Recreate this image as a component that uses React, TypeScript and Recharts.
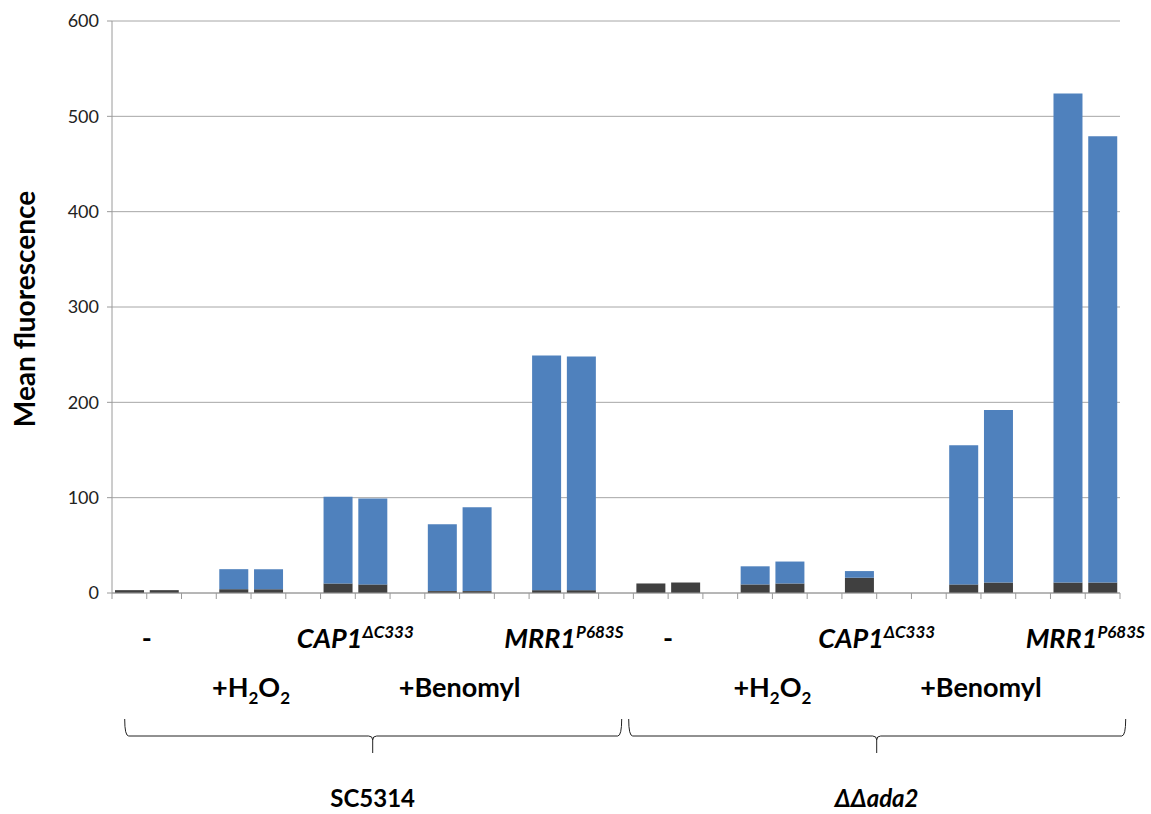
import { Bar, BarChart, CartesianGrid, XAxis, YAxis } from "recharts"

// one slot per bar position, empty slots are the gaps between pairs
const slotNames = [
  "SC5314 - a", "SC5314 - b", "SC5314 gap 1",
  "SC5314 H2O2 a", "SC5314 H2O2 b", "SC5314 gap 2",
  "SC5314 CAP1 a", "SC5314 CAP1 b", "SC5314 gap 3",
  "SC5314 Benomyl a", "SC5314 Benomyl b", "SC5314 gap 4",
  "SC5314 MRR1 a", "SC5314 MRR1 b", "SC5314 gap 5",
  "ada2 - a", "ada2 - b", "ada2 gap 1",
  "ada2 H2O2 a", "ada2 H2O2 b", "ada2 gap 2",
  "ada2 CAP1 a", "ada2 CAP1 b", "ada2 gap 3",
  "ada2 Benomyl a", "ada2 Benomyl b", "ada2 gap 4",
  "ada2 MRR1 a", "ada2 MRR1 b",
]

// dark part of each bar (background)
const background = [
  3, 3, null, 4, 4, null, 10, 9, null, 2, 2, null, 3, 3, null,
  10, 11, null, 9, 10, null, 16, null, null, 9, 11, null, 11, 11,
]

// blue part stacked on top
const signal = [
  0, 0, null, 21, 21, null, 91, 90, null, 70, 88, null, 246, 245, null,
  0, 0, null, 19, 23, null, 7, null, null, 146, 181, null, 513, 468,
]

const yTicks = [0, 100, 200, 300, 400, 500, 600]

// treatment labels: first slot of the pair they sit under, and row
const labelSlots = [0, 3, 6, 9, 12, 15, 18, 21, 24, 27]
const labelNames = ["-", "+H2O2", "CAP1", "+Benomyl", "MRR1", "-", "+H2O2", "CAP1", "+Benomyl", "MRR1"]
const labelRows = [0, 1, 0, 1, 0, 0, 1, 0, 1, 0]

const groupNames = ["SC5314", "ΔΔada2"]
const groupFirst = [0, 15]
const groupSpan = [15, 14]

const data = slotNames.map((name, i) => ({ name, background: background[i], signal: signal[i] }))

const W = 1151
const H = 814
const LEFT = 112
const RIGHT = 31
const BAND = (W - LEFT - RIGHT) / slotNames.length
const AXIS = "#9a9a9a"
const FONT = "Lato, 'Open Sans', sans-serif"

function labelText(name: string) {
  if (name === "+H2O2") {
    return (
      <>
        <tspan>+H</tspan>
        <tspan fontSize={17} dy={7}>2</tspan>
        <tspan dy={-7}>O</tspan>
        <tspan fontSize={17} dy={7}>2</tspan>
      </>
    )
  }
  if (name === "CAP1") {
    return (
      <>
        <tspan fontStyle="italic">CAP1</tspan>
        <tspan fontStyle="italic" fontSize={17} dy={-10}>ΔC333</tspan>
      </>
    )
  }
  if (name === "MRR1") {
    return (
      <>
        <tspan fontStyle="italic">MRR1</tspan>
        <tspan fontStyle="italic" fontSize={17} dy={-10}>P683S</tspan>
      </>
    )
  }
  return <tspan>{name}</tspan>
}

function SlotTick(props: any) {
  const { x, y, index } = props
  const left = x - BAND / 2
  const li = labelSlots.indexOf(index)
  const gi = groupFirst.indexOf(index)
  let group = null
  if (gi >= 0) {
    const c = left + (groupSpan[gi] * BAND) / 2
    const l = c - 248
    const r = c + 249
    const top = y + 126
    const mid = y + 143
    const d = `M${l},${top} Q${l},${mid} ${l + 4},${mid} H${c - 4} Q${c},${mid} ${c},${mid + 4} V${y + 160} M${c},${mid + 4} Q${c},${mid} ${c + 4},${mid} H${r - 4} Q${r},${mid} ${r},${top}`
    group = (
      <g>
        <path d={d} fill="none" stroke="#222" strokeWidth={1} />
        <text
          x={c}
          y={y + 214}
          textAnchor="middle"
          fontFamily={FONT}
          fontWeight="bold"
          fontStyle={gi === 1 ? "italic" : "normal"}
          fontSize={24}
          fill="#000"
        >
          {groupNames[gi]}
        </text>
      </g>
    )
  }
  return (
    <g>
      <line x1={left} x2={left} y1={y} y2={y + 6} stroke={AXIS} />
      {index === slotNames.length - 1 && (
        <line x1={left + BAND} x2={left + BAND} y1={y} y2={y + 6} stroke={AXIS} />
      )}
      {li >= 0 && (
        <text
          x={x + BAND / 2}
          y={y + (labelRows[li] === 0 ? 55 : 104)}
          textAnchor="middle"
          fontFamily={FONT}
          fontWeight="bold"
          fontSize={27}
          fill="#000"
        >
          {labelText(labelNames[li])}
        </text>
      )}
      {group}
    </g>
  )
}

export default function App() {
  return (
    <div style={{ position: "absolute", left: 0, top: 0, background: "#fff" }}>
      <BarChart width={W} height={H} data={data} margin={{ top: 21, right: RIGHT, bottom: 0, left: 0 }} barSize={29}>
        <CartesianGrid vertical={false} stroke="#a6a6a6" />
        <XAxis
          dataKey="name"
          height={221}
          interval={0}
          tickLine={false}
          tickSize={0}
          tickMargin={0}
          stroke={AXIS}
          tick={<SlotTick />}
        />
        <YAxis
          width={LEFT}
          domain={[0, 600]}
          ticks={yTicks}
          tickSize={5}
          tickMargin={8}
          stroke={AXIS}
          tick={{ fill: "#222", fontSize: 18, fontFamily: FONT }}
          label={{
            content: () => (
              <text
                x={24}
                y={309}
                transform="rotate(-90 24 309)"
                textAnchor="middle"
                dominantBaseline="central"
                fontFamily={FONT}
                fontWeight="bold"
                fontSize={28}
                fill="#000"
              >
                Mean fluorescence
              </text>
            ),
          }}
        />
        <Bar dataKey="background" stackId="a" fill="#404040" isAnimationActive={false} />
        <Bar dataKey="signal" stackId="a" fill="#4f81bd" isAnimationActive={false} />
      </BarChart>
    </div>
  )
}
